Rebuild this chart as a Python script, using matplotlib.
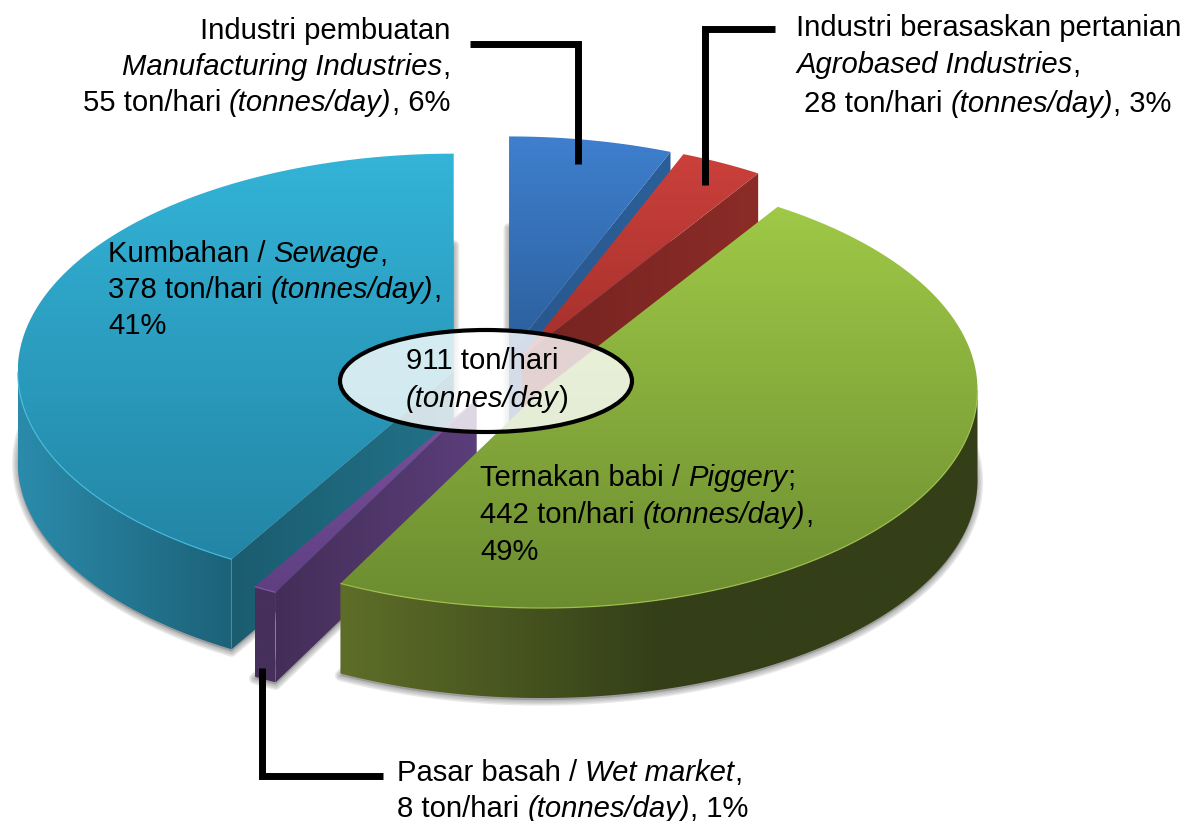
import numpy as np
import matplotlib
matplotlib.use("Agg")
import matplotlib.pyplot as plt
from matplotlib.colors import LinearSegmentedColormap
from matplotlib.patches import Polygon, Ellipse

# data, clockwise from 12 o'clock
sectors = ["Manufacturing Industries", "Agrobased Industries", "Piggery", "Wet market", "Sewage"]
tonnes = [55, 28, 442, 8, 378]

# top gradient, wall gradient, outer side gradient, rim colour
top_cols = [("#3f7fce", "#2b5f9b"), ("#cb403b", "#a4302c"), ("#9fc947", "#6c8c30"),
            ("#7d529e", "#5f3f82"), ("#33b4d8", "#2385a5")]
wall_cols = [("#28578e", "#2c5f98"), ("#742320", "#8b2c28"), ("#343f18", "#343f18"),
             ("#442e58", "#5b3e7a"), ("#1b5c70", "#227288")]
side_cols = [("#28578e", "#28578e"), ("#8b2c28", "#8b2c28"), ("#5e6e28", "#343f18", "#343f18"),
             ("#46305c", "#46305c"), ("#2b8bab", "#1c6279")]
rim_cols = ["#4a8ad8", "#d5504a", "#a8cc50", "#8a60ac", "#48c4e6"]

CX, CY = 500, 378   # pie centre in pixels
R = 436
K = 0.5             # tilt
DEPTH = 90
EXPLODE = 48

plt.rcParams["font.family"] = "Liberation Sans"
FS = 21.1

fig = plt.figure(figsize=(11.86, 8.21), dpi=100)
ax = fig.add_axes([0, 0, 1, 1])
ax.set_xlim(0, 1186)
ax.set_ylim(821, 0)
ax.axis("off")


def grad_fill(verts, cols, vertical, z):
    verts = np.array(verts)
    x0, y0 = verts.min(axis=0)
    x1, y1 = verts.max(axis=0)
    ramp = np.linspace(0, 1, 256)
    data = ramp[:, None] if vertical else ramp[None, :]
    cmap = LinearSegmentedColormap.from_list("g", cols)
    im = ax.imshow(data, cmap=cmap, extent=[x0, x1, y1, y0], origin="upper",
                   aspect="auto", zorder=z, interpolation="bilinear")
    poly = Polygon(verts, closed=True, transform=ax.transData, fc="none", ec="none")
    ax.add_patch(poly)
    im.set_clip_path(poly)


def pt(cx, cy, t):
    return cx + R * np.sin(t), cy - R * K * np.cos(t)


total = sum(tonnes)
edges = np.radians(np.cumsum([0] + tonnes) / total * 360)

slices = []
for i in range(len(tonnes)):
    t0, t1 = edges[i], edges[i + 1]
    mid = (t0 + t1) / 2
    cx = CX + EXPLODE * np.sin(mid)
    cy = CY - EXPLODE * K * np.cos(mid)
    ts = np.linspace(t0, t1, 200)
    arc = [pt(cx, cy, t) for t in ts]
    slices.append((cx, cy, t0, t1, arc))

# soft shadows under the bottom faces, drawn first
for cx, cy, t0, t1, arc in slices:
    bottom = [(cx, cy + DEPTH + 2)] + [(x, y + DEPTH + 2) for x, y in arc]
    for lw in [8, 6, 4, 2]:
        ax.add_patch(Polygon(bottom, closed=True, fc="#808080", ec="#808080",
                             lw=lw, alpha=0.17, joinstyle="round", zorder=1))

# back to front
order = [0, 1, 4, 3, 2]
z = 2
for i in order:
    cx, cy, t0, t1, arc = slices[i]
    # cut walls that face the viewer
    if np.cos(t0 - np.pi / 2) < 0:
        ex, ey = pt(cx, cy, t0)
        grad_fill([(cx, cy), (ex, ey), (ex, ey + DEPTH), (cx, cy + DEPTH)], wall_cols[i], False, z)
        z += 1
    if np.cos(t1 + np.pi / 2) < 0:
        ex, ey = pt(cx, cy, t1)
        grad_fill([(cx, cy), (ex, ey), (ex, ey + DEPTH), (cx, cy + DEPTH)], wall_cols[i], False, z)
        z += 1
    # outer side, front half only
    a0, a1 = max(t0, np.pi / 2), min(t1, 3 * np.pi / 2)
    if a1 > a0:
        ts = np.linspace(a0, a1, 200)
        up = [pt(cx, cy, t) for t in ts]
        down = [(x, y + DEPTH) for x, y in up[::-1]]
        grad_fill(up + down, side_cols[i], False, z)
        z += 1
    # top face
    grad_fill([(cx, cy)] + arc, top_cols[i], True, z)
    z += 1
    # light rim along the front edge only
    if a1 > a0:
        front = [pt(cx, cy, t) for t in np.linspace(a0, a1, 200)]
        ax.plot(*zip(*front), color=rim_cols[i], lw=0.9, alpha=0.8, solid_capstyle="butt", zorder=z)
        z += 1

# leader lines
LW = 5.0
ax.plot([470, 578, 578], [44, 44, 164], color="black", lw=LW, solid_joinstyle="miter",
        solid_capstyle="butt", zorder=z)
ax.plot([775, 705, 705], [29, 29, 185], color="black", lw=LW, solid_joinstyle="miter",
        solid_capstyle="butt", zorder=z)
ax.plot([262, 262, 383], [668, 776, 776], color="black", lw=LW, solid_joinstyle="miter",
        solid_capstyle="butt", zorder=z)
z += 1

# centre total
ax.add_patch(Ellipse((486, 381), 292, 102, fc=(1, 1, 1, 0.8), ec="black", lw=3.0, zorder=z))
z += 1

renderer = fig.canvas.get_renderer()


def width(s, style):
    a = ax.text(0, 0, "|" + s + "|", fontsize=FS, style=style)
    b = ax.text(0, 0, "||", fontsize=FS, style=style)
    w = a.get_window_extent(renderer).width - b.get_window_extent(renderer).width
    a.remove()
    b.remove()
    return w


def line(x, y, segs, ha="left"):
    # segs: "normal" and "italic" runs on one baseline
    ws = [width(s, st) for s, st in segs]
    if ha == "right":
        x = x - sum(ws)
    elif ha == "center":
        x = x - sum(ws) / 2
    for (s, st), w in zip(segs, ws):
        ax.text(x, y, s, fontsize=FS, style=st, va="baseline", ha="left", color="black", zorder=z + 1)
        x += w


N, I = "normal", "italic"
line(450, 39, [("Industri pembuatan", N)], "right")
line(450, 75, [(sectors[0], I), (",", N)], "right")
line(450, 111, [(f"{tonnes[0]} ton/hari ", N), ("(tonnes/day)", I), (", 6%", N)], "right")

line(796, 36, [("Industri berasaskan pertanian", N)])
line(796, 73, [(sectors[1], I), (",", N)])
line(804, 112, [(f"{tonnes[1]} ton/hari ", N), ("(tonnes/day)", I), (", 3%", N)])

line(108, 262, [("Kumbahan / ", N), (sectors[4], I), (",", N)])
line(108, 298, [(f"{tonnes[4]} ton/hari ", N), ("(tonnes/day)", I), (",", N)])
line(108, 334, [("41%", N)])

line(482, 369, [(f"{total} ton/hari", N)], "center")
line(487, 407, [("(tonnes/day", I), (")", N)], "center")

line(480, 486, [("Ternakan babi / ", N), (sectors[2], I), (";", N)])
line(480, 523, [(f"{tonnes[2]} ton/hari ", N), ("(tonnes/day)", I), (",", N)])
line(480, 560, [("49%", N)])

line(397, 781, [("Pasar basah / ", N), (sectors[3], I), (",", N)])
line(397, 817, [(f"{tonnes[3]} ton/hari ", N), ("(tonnes/day)", I), (", 1%", N)])

ax.set_xlim(0, 1186)
ax.set_ylim(821, 0)
fig.savefig("out.png", dpi=100)
